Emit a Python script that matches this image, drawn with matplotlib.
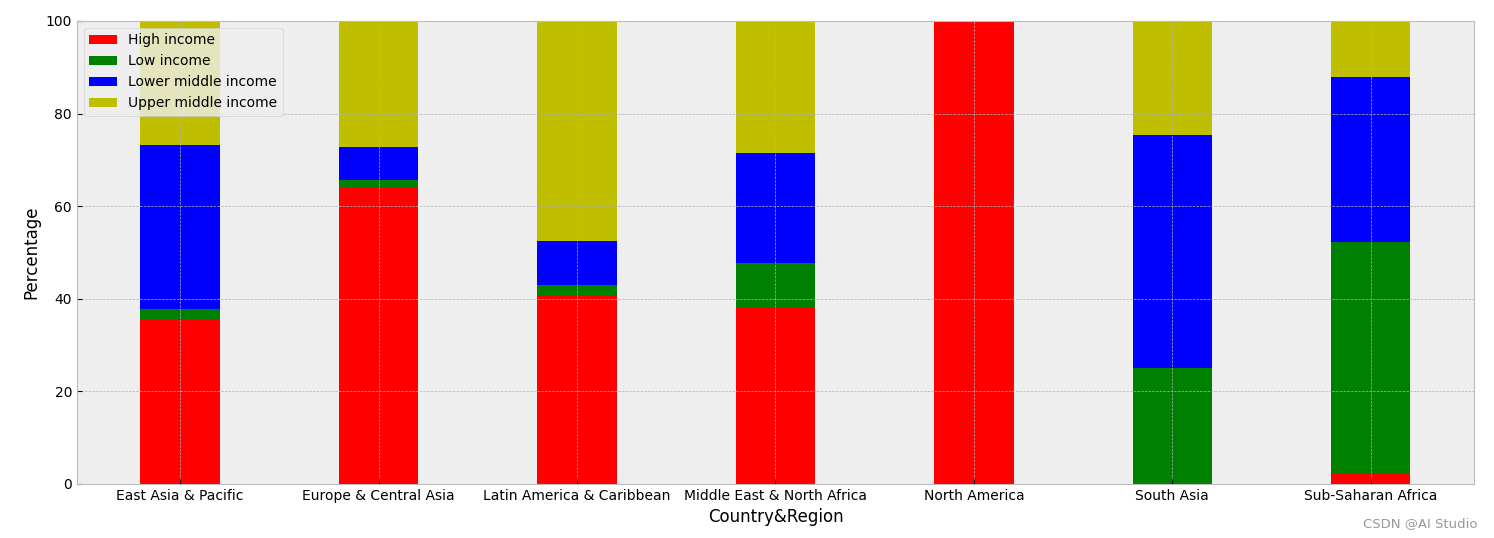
import matplotlib
matplotlib.use("Agg")
import matplotlib.pyplot as plt
import numpy as np

plt.style.use("bmh")

regions = ["East Asia & Pacific", "Europe & Central Asia", "Latin America & Caribbean",
           "Middle East & North Africa", "North America", "South Asia", "Sub-Saharan Africa"]
high_income = [35.4, 64.0, 40.5, 38.1, 100.0, 0.0, 2.2]
low_income = [2.5, 1.7, 2.5, 9.6, 0.0, 25.1, 50.1]
lower_middle = [35.4, 7.0, 9.5, 23.8, 0.0, 50.2, 35.5]
upper_middle = [26.7, 27.3, 47.5, 28.5, 0.0, 24.7, 12.2]

series = [("High income", high_income, "r"),
          ("Low income", low_income, "g"),
          ("Lower middle income", lower_middle, "b"),
          ("Upper middle income", upper_middle, "y")]

fig = plt.figure(figsize=(14.94, 5.38), dpi=100)
ax = fig.add_axes([0.0515, 0.1004, 0.9351, 0.8606])
x = np.arange(len(regions))
bottom = np.zeros(len(regions))
for name, vals, c in series:
    v = np.array(vals)
    ax.bar(x, v, 0.4, bottom=bottom, color=c, label=name)
    bottom += v

ax.set_xticks(x)
ax.set_xticklabels(regions, fontsize=10)
ax.tick_params(axis="y", labelsize=10)
ax.set_ylim(0, 100)
ax.set_xlabel("Country&Region", fontsize=12)
ax.set_ylabel("Percentage", fontsize=12)
ax.legend(loc="upper left", fontsize=10)
fig.text(0.989, 0.015, "CSDN @AI Studio", ha="right", va="bottom", fontsize=9.5, color="#999999")
fig.savefig("out.png", dpi=100)
